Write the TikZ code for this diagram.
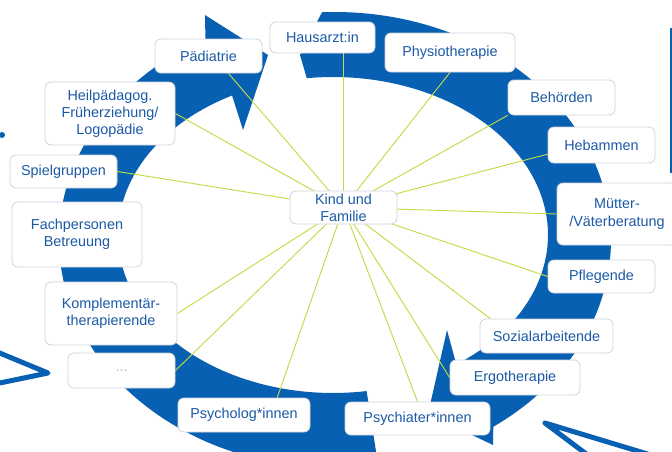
\documentclass[tikz,border=0pt]{standalone}
\usepackage{fontspec}
\usetikzlibrary{calc}
\newfontfamily\labelfont{Liberation Sans}
\definecolor{ringblue}{RGB}{8,96,178}
\definecolor{textblue}{RGB}{28,90,166}
\definecolor{linkgreen}{RGB}{196,218,70}
\definecolor{boxedge}{RGB}{208,212,222}
\pgfdeclarelayer{ring}
\pgfdeclarelayer{links}
\pgfsetlayers{ring,links,main}
\begin{document}
\begin{tikzpicture}[x=0.75pt,y=-0.75pt,
  card/.style={draw=boxedge, line width=0.6pt, fill=white, rounded corners=4.5pt,
    text=textblue, font=\labelfont\fontsize{10.8}{12.9}\selectfont,
    align=center, inner sep=0pt},
  link/.style={draw=linkgreen, line width=0.7pt},
  scribble/.style={draw=ringblue, line width=3.75pt, line join=round, line cap=round}
]
\useasboundingbox (0,0) rectangle (672,451);

% ---- nodes ----
\node[card, minimum width=80.25pt, minimum height=24.75pt] (kind) at (343.5,207.5) {Kind und\\Familie};
\node[card, minimum width=78.75pt, minimum height=23.25pt] (haus) at (322.5,37.5) {Hausarzt:in};
\node[card, minimum width=97.5pt, minimum height=29.25pt] (phys) at (450,52.5) {Physiotherapie};
\node[card, minimum width=80.25pt, minimum height=26.25pt] (beh) at (561.5,97.5) {Behörden};
\node[card, minimum width=80.25pt, minimum height=27pt] (heb) at (601.5,145) {Hebammen};
\node[card, minimum width=90pt, minimum height=46.5pt] (mut) at (617,214) {Mütter-\\/Väterberatung};
\node[card, minimum width=80.25pt, minimum height=24.75pt] (pfl) at (601.5,276.5) {Pflegende};
\node[card, minimum width=99.75pt, minimum height=25.5pt] (soz) at (546.5,336) {Sozialarbeitende};
\node[card, minimum width=97.5pt, minimum height=26.25pt] (ergo) at (515,377.5) {Ergotherapie};
\node[card, minimum width=108.75pt, minimum height=24.75pt] (psychiater) at (417.5,418.5) {Psychiater*innen};
\node[card, minimum width=99pt, minimum height=25.5pt] (psycholog) at (244,415) {Psycholog*innen};
\node[card, minimum width=80.25pt, minimum height=26.25pt, text=gray!55] (dots) at (121.5,370.5) {...};
\node[card, minimum width=99pt, minimum height=47.25pt] (komp) at (111,313.5) {Komplementär-\\therapierende};
\node[card, minimum width=97.5pt, minimum height=48.75pt] (fach) at (77,234.5) {Fachpersonen\\Betreuung};
\node[card, minimum width=80.25pt, minimum height=24.75pt] (spiel) at (63.5,171.5) {Spielgruppen};
\node[card, minimum width=97.5pt, minimum height=47.25pt] (heil) at (110,113.5) {Heilpädagog.\\Früherziehung/\\Logopädie};
\node[card, minimum width=80.25pt, minimum height=25.5pt] (pad) at (208.5,56) {Pädiatrie};

% ---- the two curved arrows forming the ring ----
\begin{pgfonlayer}{ring}
\fill[white] (0,0) rectangle (672,451);
% left arrow, running up from the bottom to the top
\fill[ringblue]
  plot[domain=81:242, samples=90, variable=\t] ({335+276*cos(\t)},{240+228*sin(\t)})
  -- (205,15) -- (268,55) -- (243,130)
  -- plot[domain=242:81, samples=90, variable=\t] ({333+215*cos(\t)},{235+158*sin(\t)})
  -- cycle;
% right arrow, running from the top down to the bottom
\fill[ringblue]
  plot[domain=267.3:415, samples=90, variable=\t] ({335+276*cos(\t)},{240+228*sin(\t)})
  -- (493,445) -- (428,414) -- (447,330)
  -- plot[domain=415:263, samples=90, variable=\t] ({333+215*cos(\t)},{235+158*sin(\t)})
  -- (300,55) -- cycle;
% loose strokes at the edges
\draw[scribble] (-10,349) -- (48,373) -- (-10,385);
\draw[scribble] (674,462) -- (545,423) -- (597,462);
\fill[ringblue] (2,135) circle[radius=2.25pt];
\draw[ringblue, line width=1.5pt] (671,28) -- (671,173);
\end{pgfonlayer}

% ---- connectors from the centre ----
\begin{pgfonlayer}{links}
\draw[link] (kind.center) -- (kind |- haus.south);
\draw[link] (kind.center) -- (phys.south);
\draw[link] (kind.center) -- (beh.south west);
\draw[link] (kind.center) -- ($(heb.west)!0.5!(heb.south west)$);
\draw[link] (kind.center) -- (mut.west);
\draw[link] (kind.center) -- (pfl.west);
\draw[link] (kind.center) -- ($(soz.north west)!0.08!(soz.north east)$);
\draw[link] (kind.center) -- (ergo.west);
\draw[link] (kind.center) -- (psychiater.north);
\draw[link] (kind.center) -- ($(psycholog.north)!0.5!(psycholog.north east)$);
\draw[link] (kind.center) -- (dots.east);
\draw[link] (kind.center) -- (komp.east);
\draw[link] (kind.center) -- (spiel.east);
\draw[link] (kind.center) -- (heil.east);
\draw[link] (kind.center) -- ($(pad.south)!0.37!(pad.south east)$);
\end{pgfonlayer}
\end{tikzpicture}
\end{document}
